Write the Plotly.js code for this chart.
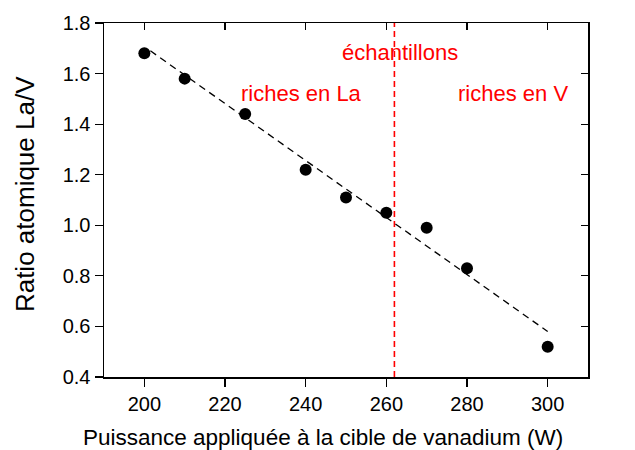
<!DOCTYPE html>
<html><head><meta charset="utf-8">
<script src="https://cdn.plot.ly/plotly-3.0.1.min.js"></script>
<style>body{margin:0;background:#fff}#c{width:635px;height:450px}</style>
</head><body><div id="c"></div>
<script>
const power = [200, 210, 225, 240, 250, 260, 270, 280, 300];
const ratio = [1.68, 1.58, 1.44, 1.22, 1.11, 1.05, 0.99, 0.83, 0.52];
const fitX = [201.5, 300];
const fitY = [1.69, 0.58];
const splitX = [262, 262];
const splitY = [0.4, 1.8];
const xTicks = [200, 220, 240, 260, 280, 300];
const yTicks = [0.4, 0.6, 0.8, 1.0, 1.2, 1.4, 1.6, 1.8];
const yTickText = yTicks.map(v => v.toFixed(1));
const labels = ["échantillons", "riches en La", "riches en V"];
const labelX = [263.4, 239, 291.5];
const labelY = [1.685, 1.523, 1.523];
const xTitle = 'Puissance appliquée à la cible de vanadium (W)';
const yTitle = 'Ratio atomique La/V';

const F = "Liberation Sans, Arial, sans-serif";
const traces = [
  {x: splitX, y: splitY, mode: 'lines', line: {color: '#ff0000', width: 1.6, dash: '6px,4px'}, hoverinfo: 'skip'},
  {x: fitX, y: fitY, mode: 'lines', line: {color: '#000', width: 1.3, dash: '7px,5px'}, hoverinfo: 'skip'},
  {x: power, y: ratio, mode: 'markers', marker: {color: '#000', size: 12}},
  {x: [], y: [], xaxis: 'x2', yaxis: 'y2'}
];
const axBase = {showgrid: false, zeroline: false, linecolor: '#000', linewidth: 1.5, tickcolor: '#000', ticklen: 8, tickwidth: 1.2};
const annots = labels.map((t, i) => ({x: labelX[i], y: labelY[i], xref: 'x', yref: 'y', text: t, showarrow: false,
    font: {size: 22, color: '#ff0000', family: F}}));
annots.push({x: 0.4525, y: -0.1695, xref: 'paper', yref: 'paper', text: xTitle, showarrow: false,
  xanchor: 'center', yanchor: 'middle', font: {size: 22.5, color: '#000', family: F}});
annots.push({x: -0.163, y: 0.517, xref: 'paper', yref: 'paper', text: yTitle, showarrow: false, textangle: -90,
  xanchor: 'center', yanchor: 'middle', font: {size: 26, color: '#000', family: F}});
const layout = {
  width: 635, height: 450,
  margin: {l: 104, r: 47, t: 23, b: 73},
  paper_bgcolor: '#fff', plot_bgcolor: '#fff',
  showlegend: false,
  font: {family: F, color: '#000'},
  xaxis: Object.assign({}, axBase, {range: [190, 310], tickvals: xTicks, ticks: 'outside', tickfont: {size: 20, family: F}}),
  yaxis: Object.assign({}, axBase, {range: [0.4, 1.8], tickvals: yTicks, ticktext: yTickText, ticks: 'outside', tickfont: {size: 20, family: F}}),
  xaxis2: Object.assign({}, axBase, {overlaying: 'x', side: 'top', range: [190, 310], tickvals: xTicks, ticks: 'inside', ticklen: 7, showticklabels: false}),
  yaxis2: Object.assign({}, axBase, {overlaying: 'y', side: 'right', range: [0.4, 1.8], tickvals: yTicks, ticks: 'inside', ticklen: 7, showticklabels: false}),
  annotations: annots
};
Plotly.newPlot('c', traces, layout, {displayModeBar: false, staticPlot: true});
</script></body></html>
